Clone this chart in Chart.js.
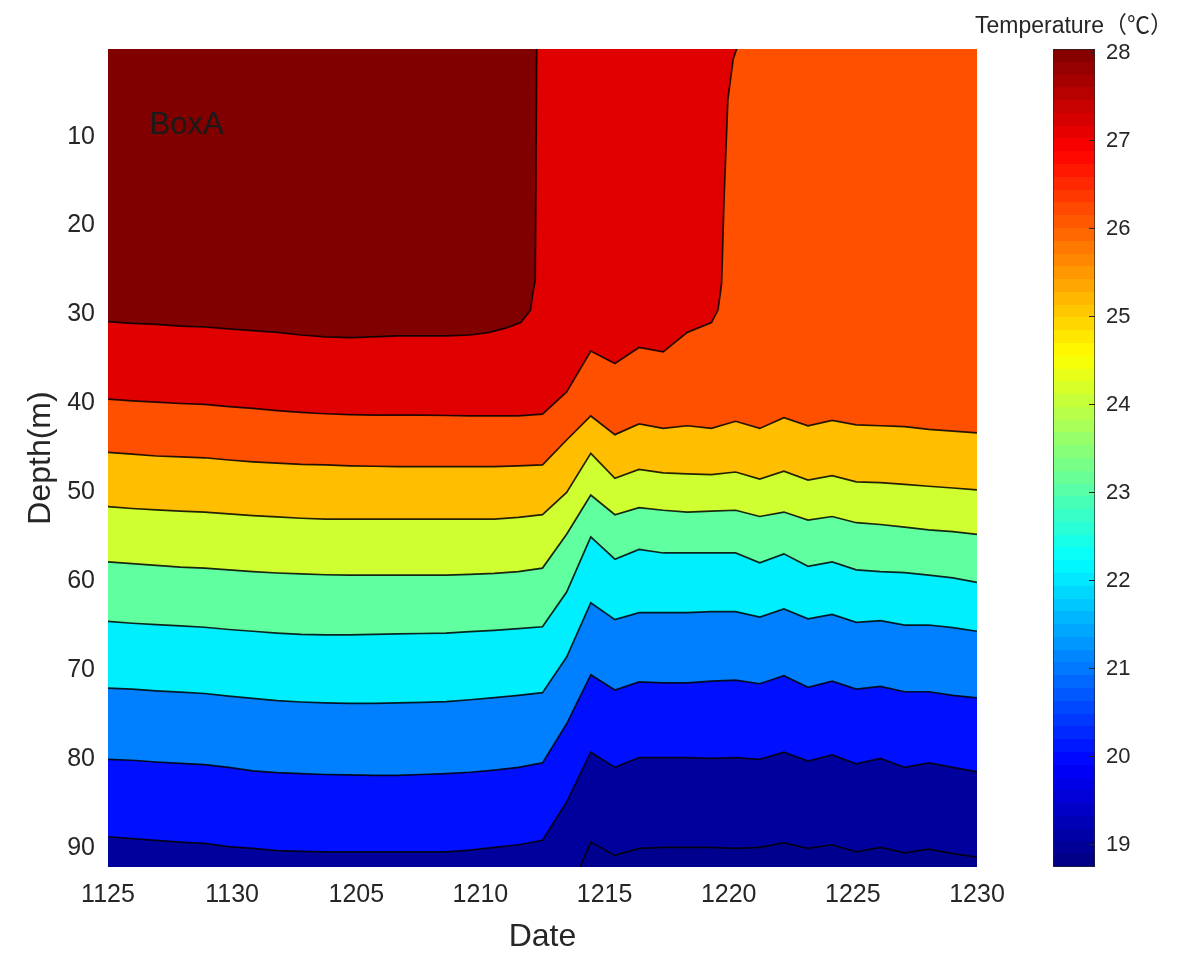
<!DOCTYPE html>
<html>
<head>
<meta charset="utf-8">
<title>BoxA temperature section</title>
<script src="https://cdn.jsdelivr.net/npm/chart.js@4.4.1/dist/chart.umd.min.js"></script>
<style>
  html, body { margin: 0; padding: 0; background: #fff; }
  #wrap { position: relative; width: 1200px; height: 967px; overflow: hidden; }
  #main { position: absolute; left: 0; top: 0; }
  #cbar { position: absolute; left: 960px; top: 0; }
</style>
</head>
<body>
<div id="wrap">
  <canvas id="main" width="1030" height="967"></canvas>
  <canvas id="cbar" width="228" height="967"></canvas>
</div>
<script>
// x = data column (0 .. 36), date tick labels spread evenly over the columns
const dateLabels = ['1125', '1130', '1205', '1210', '1215', '1220', '1225', '1230'];
const lastCol = 36;
const depthTop = 0.15;
const depthBottom = 92.1;
const surface = 0;      // depth used where a contour runs along the top edge
const seabed = 93;      // depth used where a contour runs below the bottom edge

// contour lines, depth (m) at each column
const line20 = [88.7, 88.9, 89.1, 89.3, 89.45, 89.8, 90.0, 90.25, 90.35, 90.4, 90.4, 90.4, 90.4, 90.4, 90.4, 90.2, 89.9, 89.6, 89.1,
  84.8, 79.2, 80.9, 79.8, 79.8, 79.8, 79.9, 79.8, 80.0, 79.2, 80.2, 79.5, 80.5, 79.9, 80.9, 80.4, 80.9, 81.4];
const line21 = [80.0, 80.1, 80.3, 80.45, 80.6, 80.9, 81.3, 81.5, 81.6, 81.7, 81.75, 81.8, 81.8, 81.7, 81.6, 81.45, 81.2, 80.9, 80.4,
  76.0, 70.5, 72.2, 71.3, 71.4, 71.4, 71.2, 71.1, 71.5, 70.6, 71.9, 71.2, 72.1, 71.8, 72.4, 72.4, 72.8, 73.1];
const line22 = [72.0, 72.1, 72.3, 72.45, 72.6, 72.9, 73.15, 73.4, 73.55, 73.65, 73.7, 73.7, 73.65, 73.6, 73.5, 73.3, 73.05, 72.8, 72.5,
  68.5, 62.4, 64.3, 63.5, 63.5, 63.5, 63.4, 63.4, 64.0, 63.1, 64.2, 63.7, 64.6, 64.4, 64.9, 64.9, 65.2, 65.6];
const line23 = [64.5, 64.7, 64.85, 65.0, 65.15, 65.4, 65.6, 65.8, 65.95, 66.0, 66.0, 65.95, 65.9, 65.85, 65.8, 65.65, 65.5, 65.3, 65.1,
  61.2, 55.0, 57.5, 56.4, 56.8, 56.8, 56.8, 56.8, 57.9, 56.9, 58.3, 57.8, 58.7, 58.9, 59.0, 59.3, 59.6, 60.1];
const line24 = [57.8, 58.0, 58.2, 58.4, 58.5, 58.7, 58.9, 59.05, 59.15, 59.25, 59.3, 59.3, 59.3, 59.3, 59.3, 59.2, 59.1, 58.9, 58.5,
  54.7, 50.3, 52.5, 51.7, 52.0, 52.2, 52.1, 52.0, 52.7, 52.2, 53.1, 52.7, 53.4, 53.6, 53.9, 54.2, 54.4, 54.7];
const line25 = [51.6, 51.8, 51.95, 52.1, 52.2, 52.4, 52.6, 52.75, 52.9, 53.0, 53.0, 53.0, 53.0, 53.0, 53.0, 53.0, 53.0, 52.8, 52.5,
  50.0, 45.6, 48.4, 47.4, 47.8, 47.9, 48.0, 47.7, 48.5, 47.6, 48.6, 48.1, 48.8, 48.9, 49.1, 49.3, 49.5, 49.7];
const line26 = [45.5, 45.7, 45.9, 46.0, 46.1, 46.35, 46.55, 46.7, 46.85, 46.9, 47.0, 47.05, 47.1, 47.1, 47.1, 47.1, 47.1, 47.0, 46.9,
  44.1, 41.4, 43.5, 42.3, 42.8, 42.5, 42.8, 42.0, 42.8, 41.6, 42.5, 41.9, 42.4, 42.5, 42.6, 42.9, 43.1, 43.3];

// contours that leave through the top or bottom edge: [column, depth]
const line19 = [[0, seabed], [19.4, seabed], [20, 89.3], [21, 90.8], [22, 90.0], [23, 89.9], [24, 89.9], [25, 89.9], [26, 90.0],
  [27, 89.9], [28, 89.4], [29, 90.0], [30, 89.6], [31, 90.4], [32, 89.9], [33, 90.5], [34, 90.1], [35, 90.6], [36, 91.0]];
const line27 = [[0, 39.5], [1, 39.7], [2, 39.85], [3, 40.0], [4, 40.1], [5, 40.35], [6, 40.55], [7, 40.8], [8, 41.0], [9, 41.15],
  [10, 41.25], [11, 41.3], [12, 41.3], [13, 41.3], [14, 41.35], [15, 41.4], [16, 41.4], [17, 41.4], [18, 41.2], [19, 38.7],
  [20, 34.1], [21, 35.5], [22, 33.7], [23, 34.2], [24, 32.0], [25, 30.9], [25.27, 29.5], [25.42, 26.5], [25.52, 17.1],
  [25.68, 5.8], [25.9, 1.3], [26.06, surface], [36, surface]];
const line28 = [[0, 30.8], [1, 31.0], [2, 31.1], [3, 31.3], [4, 31.4], [5, 31.6], [6, 31.8], [7, 32.0], [8, 32.3], [9, 32.5],
  [10, 32.6], [11, 32.5], [12, 32.4], [13, 32.4], [14, 32.4], [15, 32.3], [15.8, 32.0], [16.5, 31.5], [17.1, 30.9],
  [17.5, 29.5], [17.6, 27.6], [17.7, 26.1], [17.76, surface], [36, surface]];

const contourLevels = [19, 20, 21, 22, 23, 24, 25, 26, 27, 28];
const cbarMin = 18.75;
const cbarMax = 28.04;

const onGrid = depths => depths.map((d, i) => [i, d]);
const contourLines = [line19, onGrid(line20), onGrid(line21), onGrid(line22), onGrid(line23),
  onGrid(line24), onGrid(line25), onGrid(line26), line27, line28];

// fill colour of the band just below each contour, and of the warmest band
const bandColors = ['#00008F', '#00009C', '#0010FF', '#0080FF', '#00EFFF', '#60FF9F', '#CFFF30', '#FFBF00', '#FF5000', '#E00000'];
const warmestColor = '#800000';
const textColor = '#262626';

Chart.defaults.font.family = '"Liberation Sans", Arial, "Noto Sans CJK SC", sans-serif';
Chart.defaults.color = textColor;

const datasets = contourLines.map((pts, i) => ({
  label: contourLevels[i] + ' ℃',
  data: pts,
  borderColor: 'rgba(0,0,0,0.85)',
  borderWidth: 1.7,
  backgroundColor: bandColors[i],
  fill: { value: seabed },
  pointRadius: 0,
  tension: 0,
  clip: 0
}));
datasets.push({
  label: '> 28 ℃',
  data: [[0, surface], [lastCol, surface]],
  borderWidth: 0,
  backgroundColor: warmestColor,
  fill: { value: seabed },
  pointRadius: 0,
  clip: 0
});

const boxLabel = {
  id: 'boxLabel',
  afterDatasetsDraw(chart) {
    const { ctx, scales: { x, y } } = chart;
    ctx.save();
    ctx.font = '31px "Liberation Sans", Arial, sans-serif';
    ctx.fillStyle = '#1a1a1a';
    ctx.textBaseline = 'middle';
    ctx.fillText('BoxA', x.getPixelForValue(1.72), y.getPixelForValue(8.7));
    ctx.restore();
  }
};

new Chart(document.getElementById('main'), {
  type: 'line',
  data: { datasets: datasets },
  plugins: [boxLabel],
  options: {
    responsive: false,
    animation: false,
    layout: { padding: { top: 49, right: 53, left: 0, bottom: 0 } },
    plugins: { legend: { display: false }, tooltip: { enabled: false } },
    scales: {
      x: {
        type: 'linear',
        min: 0,
        max: lastCol,
        grid: { display: false, drawTicks: false },
        border: { display: false },
        afterBuildTicks: s => {
          s.ticks = dateLabels.map((_, i) => ({ value: i * lastCol / (dateLabels.length - 1) }));
        },
        ticks: {
          autoSkip: false,
          maxRotation: 0,
          padding: 13,
          font: { size: 25 },
          callback: (v, i) => dateLabels[i]
        },
        title: { display: true, text: 'Date', font: { size: 32 }, padding: { top: 0, bottom: 11 } },
        afterFit: s => { s.height = 100; }
      },
      y: {
        type: 'linear',
        reverse: true,
        min: depthTop,
        max: depthBottom,
        grid: { display: false, drawTicks: false },
        border: { display: false },
        ticks: { stepSize: 10, includeBounds: false, padding: 13, font: { size: 25 } },
        title: { display: true, text: 'Depth(m)', font: { size: 32 }, padding: { top: 22, bottom: 0 } },
        afterFit: s => { s.width = 108; }
      }
    }
  }
});

function jetColor(t) {
  const c = v => Math.round(255 * Math.min(1, Math.max(0, v)));
  return 'rgb(' + c(1.5 - Math.abs(4 * t - 3)) + ',' + c(1.5 - Math.abs(4 * t - 2)) + ',' + c(1.5 - Math.abs(4 * t - 1)) + ')';
}

function jetGradient(chart) {
  const area = chart.chartArea;
  if (!area) return '#888';
  const g = chart.ctx.createLinearGradient(0, area.bottom, 0, area.top);
  const steps = 64;
  for (let i = 0; i < steps; i++) {
    const col = jetColor((i + 0.5) / steps);
    g.addColorStop(i / steps, col);
    g.addColorStop((i + 1) / steps, col);
  }
  return g;
}

new Chart(document.getElementById('cbar'), {
  type: 'bar',
  data: {
    labels: [''],
    datasets: [{
      data: [[cbarMin, cbarMax]],
      backgroundColor: ctx => jetGradient(ctx.chart),
      borderColor: textColor,
      borderWidth: 1,
      borderSkipped: false,
      barPercentage: 1,
      categoryPercentage: 1
    }]
  },
  options: {
    responsive: false,
    animation: false,
    layout: { padding: { top: 0, right: 0, left: 0, bottom: 100 } },
    plugins: {
      legend: { display: false },
      tooltip: { enabled: false },
      title: {
        display: true,
        text: 'Temperature（℃）',
        color: textColor,
        font: { size: 23, weight: 'normal' },
        padding: { top: 13, bottom: 8.4 }
      }
    },
    scales: {
      x: { display: false },
      y: {
        position: 'right',
        min: cbarMin,
        max: cbarMax,
        border: { display: false },
        grid: { drawOnChartArea: false, tickLength: -6, color: textColor, z: 1 },
        ticks: { stepSize: 1, includeBounds: false, padding: 17, font: { size: 22 } },
        afterFit: s => { s.width = 93; }
      },
      pad: {
        type: 'linear',
        position: 'left',
        display: true,
        grid: { display: false },
        border: { display: false },
        ticks: { display: false },
        afterFit: s => { s.width = 93; }
      }
    }
  }
});
</script>
</body>
</html>
